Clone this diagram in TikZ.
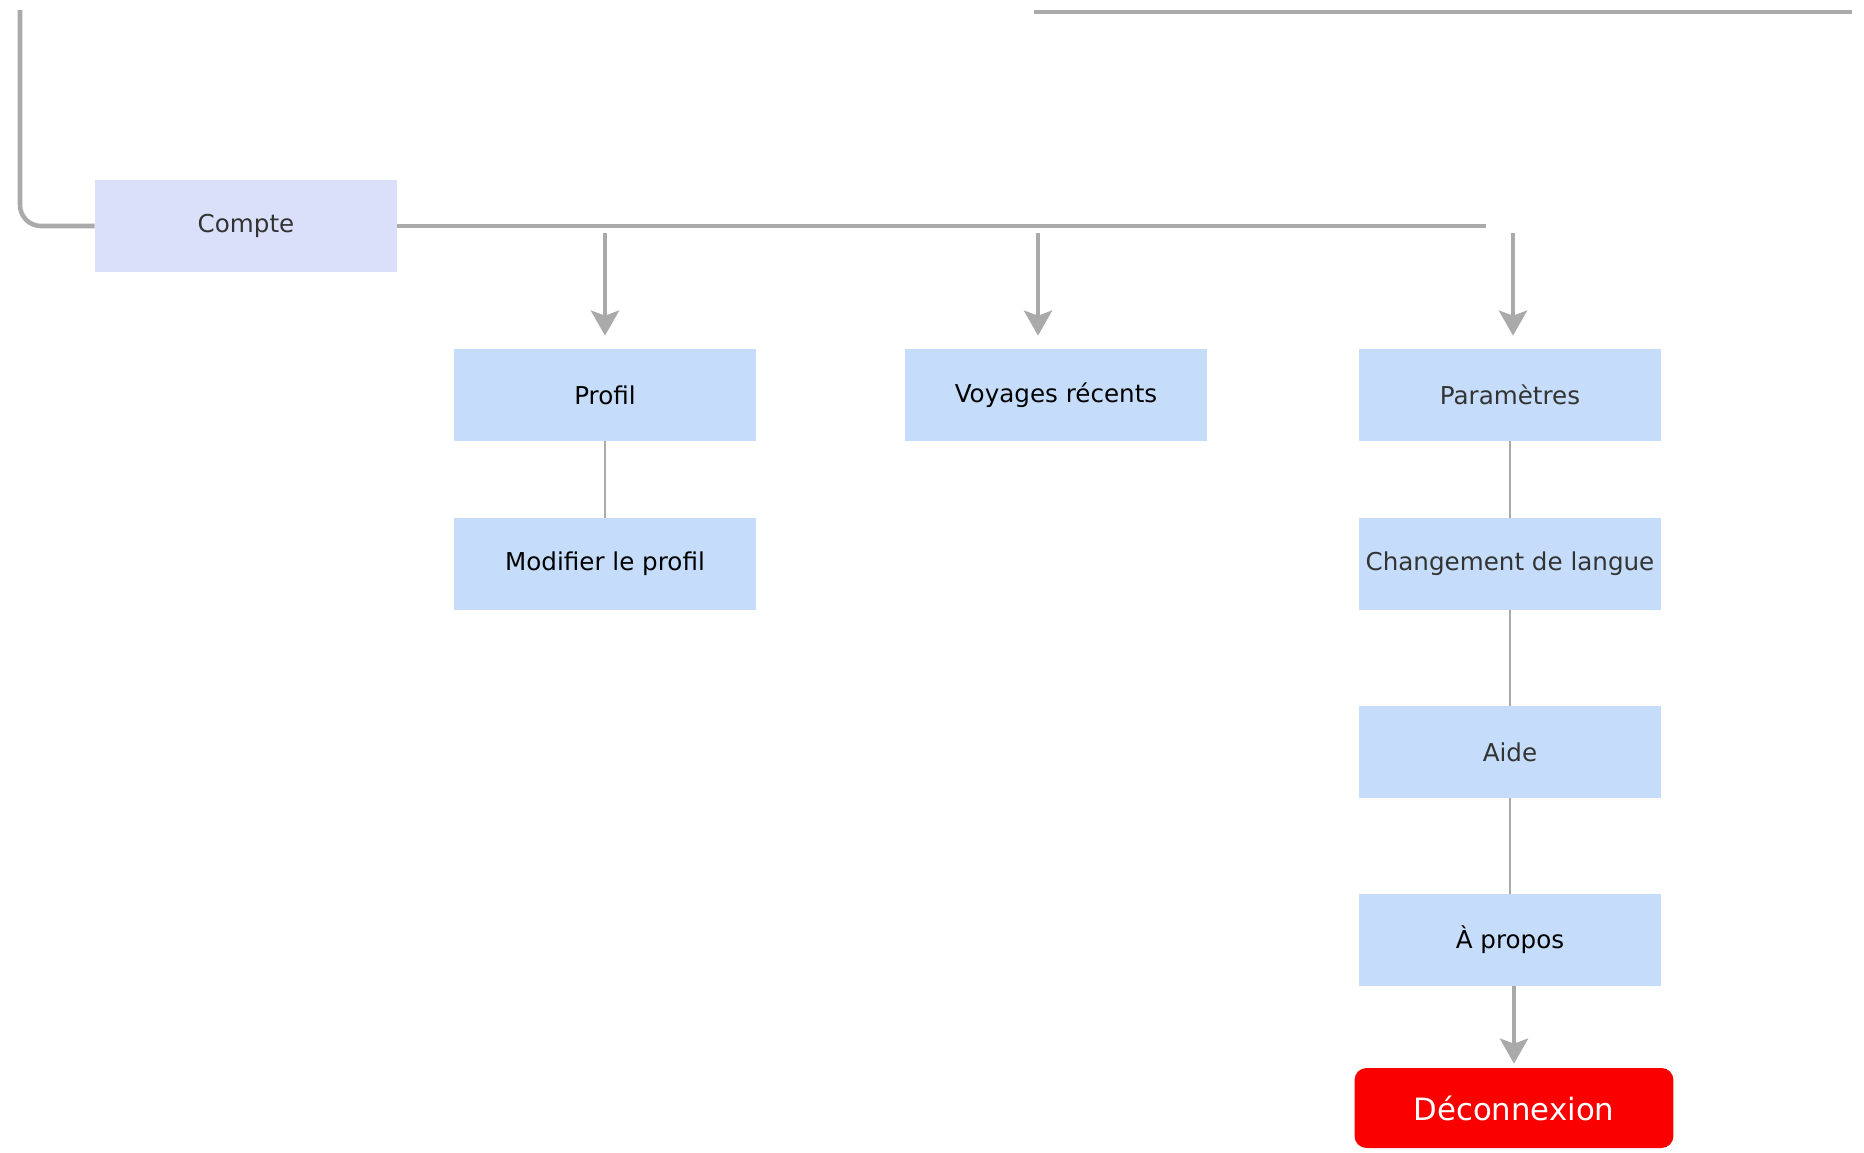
\documentclass[tikz,border=0pt]{standalone}
\usepackage{fontspec}
\setmainfont{DejaVu Sans}
\usetikzlibrary{arrows.meta}
\definecolor{boxblue}{RGB}{197,221,250}
\definecolor{boxlav}{RGB}{218,224,250}
\definecolor{linegray}{RGB}{170,170,170}
\definecolor{txtgray}{RGB}{51,51,51}
\definecolor{logoutred}{RGB}{250,0,0}

\begin{document}
\begin{tikzpicture}[x=0.02cm,y=-0.02cm,
  menubox/.style={fill=boxblue, minimum width=6.04cm, minimum height=1.84cm, inner sep=0pt, font=\fontsize{14}{16}\selectfont},
  link/.style={draw=linegray, line width=2.6pt},
  sublink/.style={draw=linegray, line width=1.6pt},
  arrow/.style={link, -{Stealth[length=0.5cm,width=0.56cm,inset=0.1cm]}, shorten >=0.26cm}]
\useasboundingbox (0,0) rectangle (1864,1153);

% menu nodes
\node[menubox, fill=boxlav, text=txtgray] (compte) at (246,226) {Compte};
\node[menubox] (profil) at (605,395) {Profil};
\node[menubox] (modif) at (605,564) {Modifier le profil};
\node[menubox] (voyages) at (1056,395) {Voyages récents};
\node[menubox, text=txtgray] (param) at (1510,395) {Paramètres};
\node[menubox, text=txtgray] (langue) at (1510,564) {Changement de langue};
\node[menubox, text=txtgray] (aide) at (1510,752) {Aide};
\node[menubox] (apropos) at (1510,940) {À propos};
\node[fill=logoutred, rounded corners=0.24cm, minimum width=6.38cm, minimum height=1.6cm, text=white, font=\fontsize{17.5}{20}\selectfont] (deco) at (1514,1108) {Déconnexion};

% cut off lines
\coordinate (topl) at (20,10);
\coordinate (topa) at (1034,12);
\coordinate (topb) at (1852,12);
\draw[link, rounded corners=0.42cm] (topl) |- (compte.west);
\draw[link] (topa) -- (topb);

% branches
\coordinate (hend) at (1486,226);
\coordinate (p0) at (605,233);
\coordinate (v0) at (1038,233);
\coordinate (s0) at (1513,233);
\draw[link] (compte.east) -- (hend);
\draw[arrow] (p0) -- (p0 |- profil.north);
\draw[arrow] (v0) -- (v0 |- voyages.north);
\draw[arrow] (s0) -- (s0 |- param.north);

\draw[sublink] (profil) -- (modif);
\draw[sublink] (param) -- (langue);
\draw[sublink] (langue) -- (aide);
\draw[sublink] (aide) -- (apropos);
\draw[arrow, shorten >=0.08cm] (deco.north |- apropos.south) -- (deco.north);
\end{tikzpicture}
\end{document}
